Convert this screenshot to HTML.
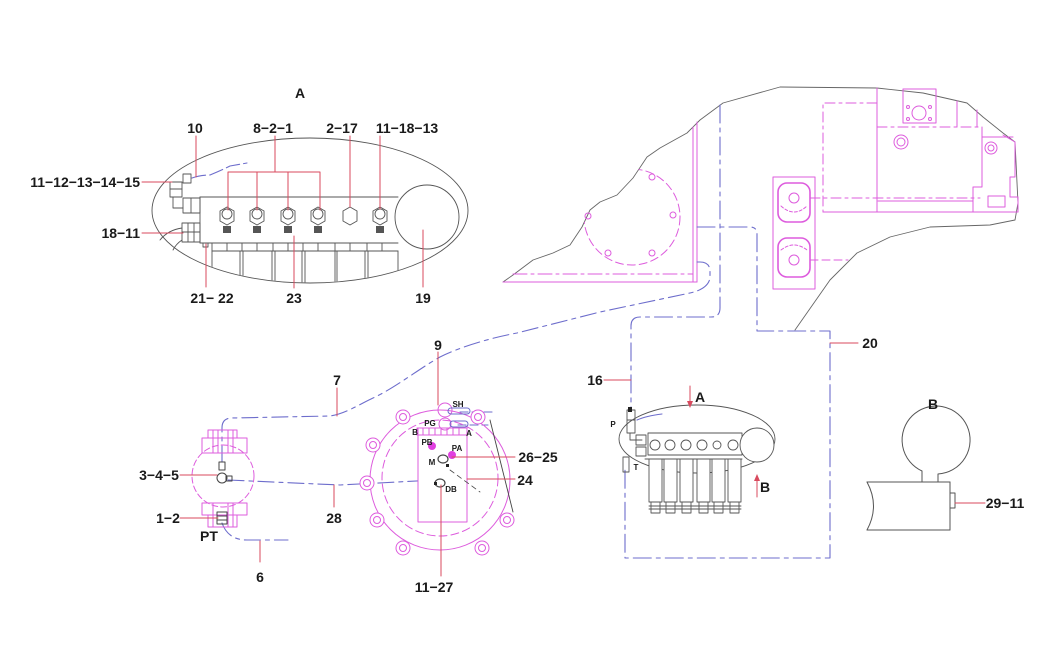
<!DOCTYPE html>
<html><head><meta charset="utf-8">
<style>
html,body{margin:0;padding:0;background:#fff;}
svg{display:block;}
text{font-family:"Liberation Sans",Arial,sans-serif;font-weight:bold;fill:#1a1a1a;}
.L{font-size:14px;text-anchor:middle;}
.S{font-size:8px;text-anchor:middle;}
</style></head><body>
<svg width="1044" height="655" viewBox="0 0 1044 655" xmlns="http://www.w3.org/2000/svg">
<defs>
<clipPath id="ec"><ellipse cx="310" cy="210.5" rx="157.5" ry="72"/></clipPath>
<clipPath id="mc"><path d="M503,282 L513,275 L533,260 L553,253 L570,245 L582,227 L590,210 L600,202 L617,195 L633,178 L647,157 L660,148 L687,133 L700,120 L723,103 L780,87 L877,88 L923,93 L967,103 L983,117 L1003,133 L1015,142 L1018,203 L1018,300 L503,300 Z"/></clipPath>
</defs>
<rect width="1044" height="655" fill="#fff"/>
<g fill="none" stroke-linecap="round" stroke-linejoin="round">

<!-- ============ MACHINE OUTLINE (black) ============ -->
<path d="M503,282 L513,275 L533,260 L553,253 L570,245 L582,227 L590,210 L600,202 L617,195 L633,178 L647,157 L660,148 L687,133 L700,120 L723,103 L780,87 L877,88 L923,93 L967,103 L983,117 L1003,133 L1015,142 L1018,203 L1015,220 L990,225 L930,227 L890,237 L857,253 L830,280 L795,330" stroke="#666" stroke-width="0.9"/>

<!-- pink left section -->
<g stroke="#dd5cdd" stroke-width="1">
<line x1="693" y1="127" x2="693" y2="282"/>
<line x1="697" y1="122" x2="697" y2="282"/>
<line x1="503" y1="282" x2="697" y2="282"/>
<line x1="513" y1="274" x2="693" y2="274" stroke-dasharray="14 4 3 4"/>
<g clip-path="url(#mc)"><circle cx="632" cy="217" r="48" stroke-dasharray="8 4"/></g>
<circle cx="652" cy="177" r="3"/><circle cx="673" cy="215" r="3"/><circle cx="652" cy="253" r="3"/><circle cx="608" cy="253" r="3"/><circle cx="588" cy="216" r="3"/>

<!-- dome holder -->
<rect x="773" y="177" width="42" height="112"/>
<rect x="778" y="183" width="32" height="39" rx="9" stroke-width="1.6"/>
<circle cx="794" cy="198" r="5"/>
<path d="M781,206 Q794,218 807,206" stroke-dasharray="3 2"/>
<rect x="778" y="238" width="32" height="39" rx="9" stroke-width="1.6"/>
<circle cx="794" cy="260" r="5"/>
<path d="M781,250 Q794,240 807,250" stroke-dasharray="3 2"/>
<line x1="810" y1="198" x2="980" y2="198" stroke-dasharray="10 4 3 4"/>
<line x1="810" y1="260" x2="848" y2="260" stroke-dasharray="8 4"/>
<!-- dashed big rect -->
<path d="M877,103 L823,103 L823,212" stroke-dasharray="10 4 3 4"/>
<line x1="877" y1="88" x2="877" y2="212"/>
<line x1="823" y1="212" x2="1018" y2="212"/>
<line x1="878" y1="201" x2="973" y2="201"/>
<line x1="877" y1="127" x2="982" y2="127" stroke-dasharray="10 4 3 4"/>
<rect x="903" y="89" width="33" height="34"/>
<circle cx="919" cy="113" r="7"/>
<circle cx="908" cy="107" r="1.5"/><circle cx="930" cy="107" r="1.5"/><circle cx="908" cy="119" r="1.5"/><circle cx="930" cy="119" r="1.5"/>
<circle cx="901" cy="142" r="7"/><circle cx="901" cy="142" r="4"/>
<line x1="957" y1="101" x2="957" y2="127"/>
<line x1="977" y1="110" x2="977" y2="127"/>
<path d="M982,127 L982,187 L973,187 L973,212"/>
<path d="M1003,135 L1015,142 L1015,177 L1010,177 L1010,197 L1018,197 L1018,212"/>
<line x1="982" y1="137" x2="1013" y2="137"/>
<rect x="988" y="196" width="17" height="11"/>
<circle cx="991" cy="148" r="6"/><circle cx="991" cy="148" r="3"/>
</g>

<!-- ============ BLUE PIPES ============ -->
<g stroke="#6d6dcc" stroke-width="1.1">
<path d="M222,462 L222,428 Q222,418 232,418 L330,416 C345,414 360,404 373,398 C395,388 420,368 440,357 C460,347 490,338 517,333 L600,312 L690,293 Q708,289 710,278 L710,270 Q709,262 700,262 L697,262" stroke-dasharray="16 5 4 5"/>
<path d="M228,480 L340,485 L436,480" stroke-dasharray="16 5 4 5"/>
<path d="M222,523 Q228,540 247,540 L288,540" stroke-dasharray="16 5 4 5"/>
<path d="M720,105 L720,308 Q720,317 711,317 L640,317 Q631,317 631,326 L631,408" stroke-dasharray="18 5 4 5"/>
<path d="M697,227 L750,227 Q757,227 757,234 L757,331 L830,331 L830,558 L625,558 L625,470" stroke-dasharray="18 5 4 5"/>
<path d="M192,178 Q200,175 210,175 Q222,170 230,166 L247,163" stroke-dasharray="14 4"/>
<line x1="460" y1="412" x2="493" y2="412" stroke-dasharray="8 4"/>
<line x1="458" y1="425" x2="488" y2="425" stroke-dasharray="8 4"/>
<path d="M637,420 Q646,416 662,414"/>
</g>

<!-- ============ TOP-LEFT ELLIPSE (view A) ============ -->
<g stroke="#555" stroke-width="0.9">
<ellipse cx="310" cy="210.5" rx="158" ry="72.5"/>
<line x1="200" y1="197" x2="398" y2="197"/>
<line x1="200" y1="197" x2="200" y2="243"/>
<line x1="200" y1="243" x2="398" y2="243"/>
<line x1="212" y1="251" x2="398" y2="251"/>
<line x1="212" y1="243" x2="212" y2="251"/>
<g>
<line x1="227" y1="243" x2="227" y2="251"/><line x1="242" y1="243" x2="242" y2="251"/><line x1="257" y1="243" x2="257" y2="251"/><line x1="273" y1="243" x2="273" y2="251"/><line x1="288" y1="243" x2="288" y2="251"/><line x1="303" y1="243" x2="303" y2="251"/><line x1="318" y1="243" x2="318" y2="251"/><line x1="335" y1="243" x2="335" y2="251"/><line x1="350" y1="243" x2="350" y2="251"/><line x1="367" y1="243" x2="367" y2="251"/><line x1="382" y1="243" x2="382" y2="251"/>
</g>
<g clip-path="url(#ec)">
<line x1="212" y1="251" x2="212" y2="300"/><line x1="240" y1="251" x2="240" y2="300"/><line x1="243" y1="251" x2="243" y2="300"/><line x1="272" y1="251" x2="272" y2="300"/><line x1="275" y1="251" x2="275" y2="300"/><line x1="302" y1="251" x2="302" y2="300"/><line x1="305" y1="251" x2="305" y2="300"/><line x1="335" y1="251" x2="335" y2="300"/><line x1="337" y1="251" x2="337" y2="300"/><line x1="365" y1="251" x2="365" y2="300"/><line x1="368" y1="251" x2="368" y2="300"/><line x1="398" y1="251" x2="398" y2="300"/>
</g>
<circle cx="427" cy="217" r="32"/>
<rect x="183" y="174" width="8" height="9"/>
<rect x="170" y="182" width="12" height="15"/>
<line x1="170" y1="189" x2="182" y2="189"/>
<path d="M173,197 L173,208 L183,208"/>
<rect x="183" y="198" width="17" height="15"/>
<line x1="191" y1="198" x2="191" y2="213"/>
<rect x="182" y="223" width="18" height="19"/>
<line x1="188" y1="223" x2="188" y2="242"/><line x1="194" y1="223" x2="194" y2="242"/><line x1="182" y1="232" x2="200" y2="232"/>
<rect x="203" y="243" width="5" height="4"/>
<path d="M182,228 Q168,230 160,240"/>
<path d="M182,240 Q176,244 173,250"/>
<g>
<path d="M227,207 L234,211 L234,221 L227,225 L220,221 L220,211 Z"/><circle cx="227" cy="214" r="5"/>
<path d="M257,207 L264,211 L264,221 L257,225 L250,221 L250,211 Z"/><circle cx="257" cy="214" r="5"/>
<path d="M288,207 L295,211 L295,221 L288,225 L281,221 L281,211 Z"/><circle cx="288" cy="214" r="5"/>
<path d="M318,207 L325,211 L325,221 L318,225 L311,221 L311,211 Z"/><circle cx="318" cy="214" r="5"/>
<path d="M350,207 L357,211 L357,221 L350,225 L343,221 L343,211 Z"/>
<path d="M380,207 L387,211 L387,221 L380,225 L373,221 L373,211 Z"/><circle cx="380" cy="214" r="5"/>
</g>
</g>
<g fill="#555">
<rect x="223" y="226" width="8" height="7"/><rect x="253" y="226" width="8" height="7"/><rect x="284" y="226" width="8" height="7"/><rect x="314" y="226" width="8" height="7"/><rect x="376" y="226" width="8" height="7"/>
</g>

<!-- ============ PUMP ============ -->
<g stroke="#dd5cdd" stroke-width="1">
<circle cx="223" cy="476" r="31" stroke-dasharray="6 3"/>
<rect x="202" y="438" width="45" height="15"/>
<rect x="208" y="430" width="29" height="8"/>
<line x1="213" y1="430" x2="213" y2="453"/><line x1="218" y1="430" x2="218" y2="453"/><line x1="228" y1="430" x2="228" y2="453"/><line x1="233" y1="430" x2="233" y2="453"/>
<rect x="202" y="503" width="45" height="12"/>
<rect x="208" y="515" width="29" height="12"/>
<line x1="213" y1="503" x2="213" y2="527"/><line x1="233" y1="503" x2="233" y2="527"/><line x1="228" y1="503" x2="228" y2="527"/>
</g>
<g stroke="#444" stroke-width="1">
<rect x="219" y="462" width="6" height="8"/>
<circle cx="222" cy="478" r="5"/>
<rect x="226" y="476" width="6" height="5"/>
<rect x="217" y="512" width="10" height="12"/>
<line x1="217" y1="516" x2="227" y2="516"/><line x1="217" y1="520" x2="227" y2="520"/>
</g>

<!-- ============ MOTOR ============ -->
<g stroke="#dd5cdd" stroke-width="1">
<circle cx="440" cy="478" r="58" stroke-dasharray="8 4"/>
<circle cx="440" cy="480" r="70"/>
<g fill="#fff">
<circle cx="403" cy="417" r="7"/><circle cx="478" cy="417" r="7"/><circle cx="373" cy="445" r="7"/><circle cx="367" cy="483" r="7"/><circle cx="377" cy="520" r="7"/><circle cx="403" cy="548" r="7"/><circle cx="482" cy="548" r="7"/><circle cx="507" cy="520" r="7"/>
</g>
<circle cx="403" cy="417" r="3.5"/><circle cx="478" cy="417" r="3.5"/><circle cx="373" cy="445" r="3.5"/><circle cx="367" cy="483" r="3.5"/><circle cx="377" cy="520" r="3.5"/><circle cx="403" cy="548" r="3.5"/><circle cx="482" cy="548" r="3.5"/><circle cx="507" cy="520" r="3.5"/>
<rect x="418" y="428" width="49" height="94" fill="#fff"/>
<rect x="417" y="428" width="50" height="7"/>
<line x1="423" y1="428" x2="423" y2="435"/><line x1="429" y1="428" x2="429" y2="435"/><line x1="435" y1="428" x2="435" y2="435"/><line x1="441" y1="428" x2="441" y2="435"/><line x1="447" y1="428" x2="447" y2="435"/><line x1="453" y1="428" x2="453" y2="435"/><line x1="459" y1="428" x2="459" y2="435"/>
<circle cx="445" cy="410" r="7"/>
<circle cx="445" cy="424" r="6"/>
</g>
<g stroke="#6d6dcc" stroke-width="1">
<rect x="448" y="408" width="22" height="6" rx="3"/>
<rect x="450" y="421" width="18" height="6" rx="3"/>
</g>
<circle cx="432" cy="446" r="4" fill="#e040e0"/>
<circle cx="452" cy="455" r="4" fill="#e040e0"/>
<g stroke="#444" stroke-width="1.2">
<ellipse cx="443" cy="459" rx="5" ry="4"/>
<ellipse cx="440" cy="483" rx="5" ry="4"/>
<line x1="490" y1="420" x2="513" y2="512" stroke-width="0.9"/>
<line x1="450" y1="470" x2="480" y2="492" stroke-dasharray="5 4" stroke-width="0.8"/>
</g>
<rect x="446" y="464" width="3" height="3" fill="#222"/>
<rect x="434" y="482" width="3" height="3" fill="#222"/>

<!-- ============ RIGHT VALVE ============ -->
<g stroke="#555" stroke-width="0.9">
<ellipse cx="697" cy="439" rx="78" ry="34"/>
<rect x="648" y="433" width="94" height="22" fill="#fff"/>
<circle cx="757" cy="445" r="17" fill="#fff"/>
<rect x="627" y="410" width="8" height="10"/>
<rect x="627" y="420" width="8" height="13"/>
<path d="M630,433 L630,440 L642,440"/>
<rect x="636" y="435" width="10" height="10"/>
<rect x="636" y="447" width="10" height="9"/>
<rect x="623" y="457" width="6" height="15"/>
<g>
<circle cx="655" cy="445" r="5"/><circle cx="670" cy="445" r="5"/><circle cx="686" cy="445" r="5"/><circle cx="702" cy="445" r="5"/><circle cx="717" cy="445" r="4"/><circle cx="733" cy="445" r="5"/>
</g>
<line x1="645" y1="459" x2="742" y2="459"/>
<g fill="#fff">
<rect x="649" y="459" width="13" height="43"/><rect x="664" y="459" width="13" height="43"/><rect x="680" y="459" width="13" height="43"/><rect x="697" y="459" width="13" height="43"/><rect x="712" y="459" width="13" height="43"/><rect x="728" y="459" width="13" height="43"/>
<rect x="651" y="502" width="9" height="11"/><rect x="666" y="502" width="9" height="11"/><rect x="682" y="502" width="9" height="11"/><rect x="699" y="502" width="9" height="11"/><rect x="714" y="502" width="9" height="11"/><rect x="730" y="502" width="9" height="11"/>
</g>
<line x1="649" y1="506" x2="741" y2="506"/>
<line x1="649" y1="509" x2="741" y2="509"/>
</g>
<rect x="628" y="407" width="4" height="5" fill="#222"/>

<!-- ============ VIEW B ============ -->
<g stroke="#555" stroke-width="1">
<path d="M922,482 L922,471 A34,34 0 1 1 938,474 L938,482"/>
<line x1="867" y1="482" x2="950" y2="482"/>
<line x1="950" y1="482" x2="950" y2="530"/>
<line x1="867" y1="530" x2="950" y2="530"/>
<path d="M867,482 Q880,506 867,530"/>
<rect x="950" y="493" width="5" height="15"/>
</g>

<!-- ============ RED LEADERS ============ -->
<g stroke="#d84a5e" stroke-width="1">
<line x1="142" y1="182" x2="172" y2="182"/>
<line x1="142" y1="233" x2="183" y2="233"/>
<line x1="206" y1="244" x2="206" y2="287"/>
<line x1="294" y1="236" x2="294" y2="288"/>
<line x1="423" y1="230" x2="423" y2="287"/>
<line x1="196" y1="136" x2="196" y2="177"/>
<path d="M228,210 L228,172 L320,172 L320,210 M257,172 L257,210 M288,172 L288,210 M275,136 L275,172"/>
<line x1="350" y1="136" x2="350" y2="207"/>
<line x1="380" y1="136" x2="380" y2="209"/>
<line x1="438" y1="352" x2="438" y2="405"/>
<line x1="337" y1="388" x2="337" y2="416"/>
<line x1="180" y1="475" x2="217" y2="475"/>
<line x1="180" y1="518" x2="218" y2="518"/>
<line x1="334" y1="485" x2="334" y2="507"/>
<line x1="260" y1="541" x2="260" y2="562"/>
<line x1="452" y1="457" x2="515" y2="457"/>
<line x1="467" y1="479" x2="515" y2="479"/>
<line x1="441" y1="485" x2="441" y2="576"/>
<line x1="604" y1="380" x2="631" y2="380"/>
<line x1="830" y1="343" x2="858" y2="343"/>
<line x1="955" y1="503" x2="985" y2="503"/>
<line x1="690" y1="386" x2="690" y2="403"/>
<line x1="757" y1="497" x2="757" y2="479"/>
</g>
<path d="M687,401 L693,401 L690,408 Z" fill="#d84a5e"/>
<path d="M754,481 L760,481 L757,474 Z" fill="#d84a5e"/>
</g>

<!-- ============ LABELS ============ -->
<text class="L" x="300" y="98">A</text>
<text class="L" x="195" y="133">10</text>
<text class="L" x="273" y="133">8−2−1</text>
<text class="L" x="342" y="133">2−17</text>
<text class="L" x="407" y="133">11−18−13</text>
<text class="L" x="140" y="187" style="text-anchor:end">11−12−13−14−15</text>
<text class="L" x="140" y="238" style="text-anchor:end">18−11</text>
<text class="L" x="212" y="303">21− 22</text>
<text class="L" x="294" y="303">23</text>
<text class="L" x="423" y="303">19</text>
<text class="L" x="337" y="385">7</text>
<text class="L" x="438" y="350">9</text>
<text class="L" x="595" y="385">16</text>
<text class="L" x="870" y="348">20</text>
<text class="L" x="700" y="402">A</text>
<text class="L" x="765" y="492">B</text>
<text class="L" x="933" y="409">B</text>
<text class="L" x="1005" y="508">29−11</text>
<text class="L" x="159" y="480">3−4−5</text>
<text class="L" x="168" y="523">1−2</text>
<text class="L" x="209" y="541">PT</text>
<text class="L" x="334" y="523">28</text>
<text class="L" x="260" y="582">6</text>
<text class="L" x="538" y="462">26−25</text>
<text class="L" x="525" y="485">24</text>
<text class="L" x="434" y="592">11−27</text>
<text class="S" x="458" y="407">SH</text>
<text class="S" x="430" y="426">PG</text>
<text class="S" x="415" y="435">B</text>
<text class="S" x="469" y="436">A</text>
<text class="S" x="427" y="445">PB</text>
<text class="S" x="457" y="451">PA</text>
<text class="S" x="432" y="465">M</text>
<text class="S" x="451" y="492">DB</text>
<text class="S" x="613" y="427">P</text>
<text class="S" x="636" y="470">T</text>
</svg>
</body></html>
